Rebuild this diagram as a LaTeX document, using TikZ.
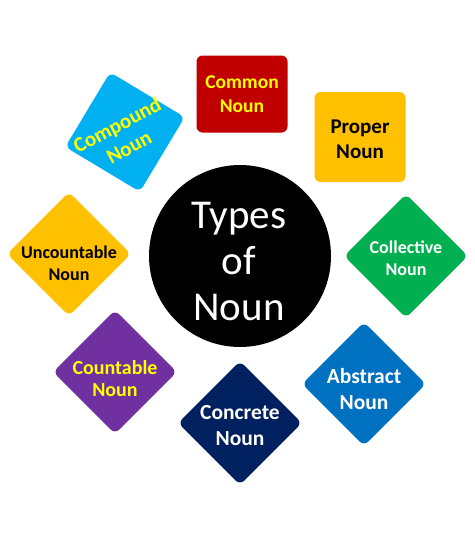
\documentclass[tikz,border=0pt]{standalone}
\usepackage{fontspec}
\setmainfont{Carlito}
\usetikzlibrary{backgrounds}
\definecolor{cred}{HTML}{C00000}
\definecolor{corange}{HTML}{FFC000}
\definecolor{cgreen}{HTML}{00B050}
\definecolor{ccyan}{HTML}{00B0F0}
\definecolor{cpurple}{HTML}{7030A0}
\definecolor{cnavy}{HTML}{002060}
\definecolor{cblue}{HTML}{0070C0}
\definecolor{cyel}{HTML}{FFFF00}
\definecolor{cline}{HTML}{C8C8D0}
\tikzset{
  box/.style={rectangle, rounded corners=6pt, inner sep=0pt, draw=none},
  dia/.style={box, rotate=45, minimum width=87.5pt, minimum height=87.5pt},
  lbl/.style={align=center, inner sep=0pt, font=\bfseries},
  conn/.style={draw=cline, line width=0.7pt},
}
\begin{document}
\begin{tikzpicture}[x=1pt,y=-1pt]
\useasboundingbox[fill=white] (0,0) rectangle (474,546);
% hub
\node[circle, fill=black, minimum size=182pt, inner sep=0pt] (hub) at (240,256) {};
\node[align=center, text=white, inner sep=0pt, font=\fontsize{41}{46}\selectfont] (hubt) at (239,261) {Types\\of\\Noun};
% axis-aligned boxes
\node[box, fill=cred, minimum width=91pt, minimum height=77pt] (common) at (242,94) {};
\node[lbl, text=cyel, font=\bfseries\fontsize{19.5}{24}\selectfont] (commont) at (242,94) {Common\\Noun};
\node[box, fill=corange, minimum width=91pt, minimum height=90pt] (proper) at (360,137) {};
\node[lbl, text=black, font=\bfseries\fontsize{21}{25}\selectfont] (propert) at (360,139) {Proper\\Noun};
% compound (tilted)
\node[box, fill=ccyan, rotate=-31, minimum width=87pt, minimum height=87pt] (compound) at (125,132) {};
\node[lbl, text=cyel, rotate=28, font=\bfseries\fontsize{21}{25}\selectfont] (compoundt) at (123,136) {Compound\\Noun};
% diamonds
\node[dia, fill=cgreen] (collective) at (406,256) {};
\node[lbl, text=white, font=\bfseries\fontsize{18}{21.5}\selectfont] (collectivet) at (406,258) {Collective\\Noun};
\node[dia, fill=corange] (uncount) at (69,254) {};
\node[lbl, text=black, font=\bfseries\fontsize{18}{21.5}\selectfont] (uncountt) at (69,263) {Uncountable\\Noun};
\node[dia, fill=cpurple] (count) at (115,372) {};
\node[lbl, text=cyel, font=\bfseries\fontsize{20}{22}\selectfont] (countt) at (115,379) {Countable\\Noun};
\node[dia, fill=cnavy] (concrete) at (240,423) {};
\node[lbl, text=white, font=\bfseries\fontsize{21.5}{26}\selectfont] (concretet) at (240,426) {Concrete\\Noun};
\node[dia, fill=cblue] (abstract) at (364,384) {};
\node[lbl, text=white, font=\bfseries\fontsize{21.5}{26.5}\selectfont] (abstractt) at (364,389) {Abstract\\Noun};
% connectors
\begin{scope}[on background layer]
\foreach \n in {common,proper,compound,collective,uncount,count,concrete,abstract}
  \draw[conn] (hub.center) -- (\n.center);
\end{scope}
\end{tikzpicture}
\end{document}
